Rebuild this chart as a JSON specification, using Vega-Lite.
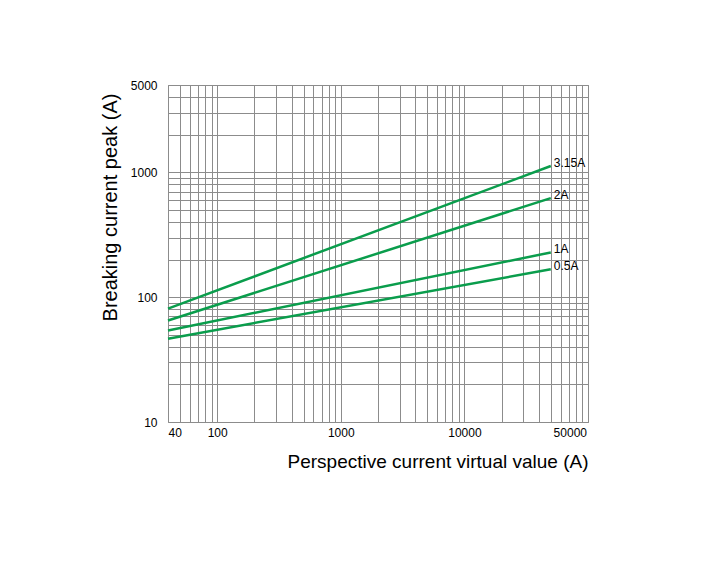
{
  "$schema": "https://vega.github.io/schema/vega-lite/v6.json",
  "autosize": {"type": "none"},
  "padding": {"left": 168, "top": 85, "right": 128, "bottom": 144},
  "width": 420,
  "height": 337,
  "background": "white",
  "config": {
    "font": "Liberation Sans",
    "view": {"stroke": "#8c8c8c", "strokeWidth": 1},
    "axis": {"domain": false, "ticks": false, "gridColor": "#8c8c8c", "gridOpacity": 1, "gridWidth": 1, "labelColor": "#000", "titleColor": "#000", "labelFont": "Liberation Sans", "titleFont": "Liberation Sans", "titleFontWeight": "normal", "labelFontSize": 12, "titleFontSize": 19}
  },
  "data": {
    "values": [
      {"series": "3.15A", "x": 40, "y": 81},
      {"series": "3.15A", "x": 50000, "y": 1122},
      {"series": "2A", "x": 40, "y": 65},
      {"series": "2A", "x": 50000, "y": 621},
      {"series": "1A", "x": 40, "y": 54},
      {"series": "1A", "x": 50000, "y": 228},
      {"series": "0.5A", "x": 40, "y": 46.5},
      {"series": "0.5A", "x": 50000, "y": 167}
    ]
  },
  "layer": [
    {
      "mark": {"type": "line", "color": "#0a9d4c", "strokeWidth": 2.5},
      "encoding": {
        "x": {
          "field": "x", "type": "quantitative",
          "scale": {"type": "log", "domain": [40, 100000], "nice": false},
          "axis": {
            "title": "Perspective current virtual value (A)",
            "titleAnchor": "end",
            "titlePadding": 14,
            "labelPadding": 5,
            "labelFlush": true,
            "values": [40, 50, 60, 70, 80, 90, 100, 200, 300, 400, 500, 600, 700, 800, 900, 1000, 2000, 3000, 4000, 5000, 6000, 7000, 8000, 9000, 10000, 20000, 30000, 40000, 50000, 60000, 70000, 80000, 90000, 100000],
            "labelExpr": "indexof([40,100,1000,10000,50000], datum.value) >= 0 ? '' + datum.value : ''",
            "labelOffset": {"condition": {"test": "datum.value == 50000", "value": 19}, "value": 0}
          }
        },
        "y": {
          "field": "y", "type": "quantitative",
          "scale": {"type": "log", "domain": [10, 5000], "nice": false},
          "axis": {
            "title": "Breaking current peak (A)",
            "titleFontSize": 20,
            "titleX": -58,
            "titleY": 122,
            "titleAlign": "center",
            "titleBaseline": "middle",
            "titleAngle": -90,
            "labelPadding": 11,
            "values": [10, 20, 30, 40, 50, 60, 70, 80, 90, 100, 200, 300, 400, 500, 600, 700, 800, 900, 1000, 2000, 3000, 4000, 5000],
            "labelExpr": "indexof([10,100,1000,5000], datum.value) >= 0 ? '' + datum.value : ''"
          }
        },
        "detail": {"field": "series"}
      }
    },
    {
      "transform": [{"filter": "datum.x == 50000"}],
      "mark": {"type": "text", "align": "left", "baseline": "middle", "dx": 3, "dy": -3, "fontSize": 12, "font": "Liberation Sans", "color": "#000"},
      "encoding": {
        "x": {"field": "x", "type": "quantitative"},
        "y": {"field": "y", "type": "quantitative"},
        "text": {"field": "series"}
      }
    }
  ]
}
